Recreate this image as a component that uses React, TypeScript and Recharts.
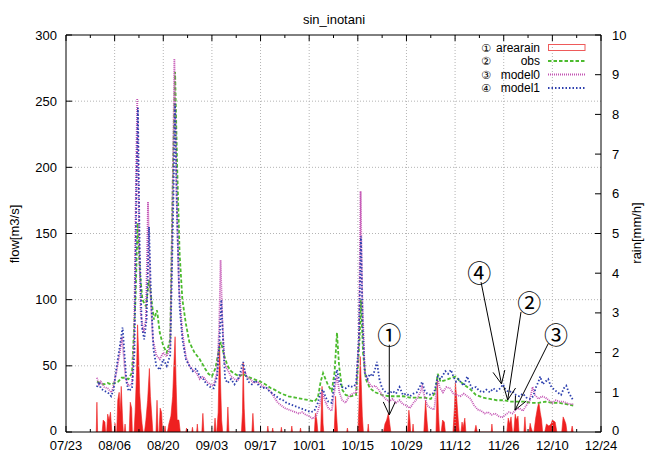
import React from 'react';
import { ComposedChart, Line, Area, XAxis, YAxis, ReferenceLine, ReferenceDot } from 'recharts';

const TITLE = 'sin_inotani';
const Y_LABEL = 'flow[m3/s]';
const Y2_LABEL = 'rain[mm/h]';
const X_LABELS = ['07/23', '08/06', '08/20', '09/03', '09/17', '10/01', '10/15', '10/29', '11/12', '11/26', '12/10', '12/24'];
// day offsets from 07/23
const X_TICKS = [0, 7, 14, 21, 28, 35, 42, 49, 56, 63, 70, 77, 84, 91, 98, 105, 112, 119, 126, 133, 140, 147, 154];
const X_GRID = [14, 28, 42, 56, 70, 84, 98, 112, 126, 140];
const FLOW_TICKS = [0, 50, 100, 150, 200, 250, 300];
const FLOW_GRID = [50, 100, 150, 200, 250];
const RAIN_TICKS = [0, 1, 2, 3, 4, 5, 6, 7, 8, 9, 10];

const LEGEND = [
  { mark: '①', name: 'arearain' },
  { mark: '②', name: 'obs' },
  { mark: '③', name: 'model0' },
  { mark: '④', name: 'model1' },
];

// rain [day, mm/h]
const RAIN: [number, number][] = [
  [8.7, 0], [8.9, 0.75], [9.1, 0],
  [10.4, 0], [10.7, 0.3], [11.2, 0.25], [11.4, 0],
  [11.7, 0], [12, 0.45], [12.4, 0.3], [12.8, 0.5], [13.2, 0],
  [13.9, 0], [14.1, 0.22], [14.3, 0],
  [14.6, 0], [14.9, 0.8], [15.3, 1.0], [15.6, 0.5], [15.9, 1.15], [16.3, 0.3], [16.5, 0],
  [16.8, 0], [17, 0.2], [17.2, 0],
  [18.2, 0], [18.5, 0.75], [18.9, 0.6], [19.1, 0],
  [19.6, 0], [19.9, 0.5], [20.3, 1.5], [20.6, 2.7], [20.9, 2.0], [21.2, 1.0], [21.5, 0.6], [21.9, 0.2], [22.2, 0],
  [22.6, 0], [23, 0.3], [23.5, 0.8], [24, 1.6], [24.3, 0.9], [24.7, 0.4], [25, 0],
  [25.9, 0], [26.2, 0.8], [26.5, 0],
  [26.8, 0], [27.1, 0.6], [27.5, 0.5], [27.8, 0],
  [28.3, 0], [28.5, 0.15], [28.7, 0],
  [29.2, 0], [29.6, 0.2], [30.2, 0.4], [30.7, 0.9], [31.1, 1.8], [31.4, 2.4], [31.7, 1.2], [32, 0.3], [32.5, 0.3], [32.9, 0],
  [34.5, 0], [34.7, 0.1], [34.9, 0],
  [36.2, 0], [36.4, 0.12], [36.6, 0],
  [37.6, 0], [37.8, 0.2], [38, 0],
  [39.1, 0], [39.4, 0.47], [39.7, 0],
  [42.6, 0], [42.9, 0.35], [43.2, 0],
  [43.4, 0], [43.8, 0.5], [44.2, 2.25], [44.5, 1.2], [44.8, 0.3], [45.1, 0],
  [46.3, 0], [46.6, 0.63], [46.9, 0],
  [50.5, 0], [50.8, 0.5], [51, 1.75], [51.3, 0.6], [51.6, 0],
  [53.5, 0], [53.8, 0.47], [54.1, 0],
  [57.9, 0], [58.1, 0.15], [58.3, 0],
  [59.3, 0], [59.5, 0.1], [59.7, 0],
  [61.8, 0], [62, 0.12], [62.2, 0],
  [64.8, 0], [65, 0.15], [65.2, 0],
  [67.3, 0], [67.5, 0.1], [67.7, 0],
  [71.5, 0], [71.8, 0.47], [72.2, 0.3], [72.5, 0],
  [73.3, 0], [73.7, 1.15], [74, 0.2], [74.2, 0],
  [77.2, 0], [77.6, 0.9], [77.9, 0.4], [78.2, 0],
  [80.8, 0], [81, 0.1], [81.2, 0],
  [84, 0], [84.3, 0.6], [84.7, 1.9], [85, 1.2], [85.3, 0.4], [85.6, 0],
  [86.8, 0], [87, 0.2], [87.2, 0],
  [91.4, 0], [91.8, 0.2], [92.3, 0.3], [92.8, 0.47], [93.2, 0.2], [93.5, 0],
  [98.3, 0], [98.7, 0.55], [99, 0.3], [99.2, 0],
  [99.7, 0], [99.9, 0.2], [100.1, 0],
  [103, 0], [103.5, 0.8], [103.9, 0.3], [104.2, 0],
  [106.5, 0], [106.9, 1.35], [107.2, 0.5], [107.5, 0],
  [108, 0], [108.4, 0.3], [108.9, 0.25], [109.2, 0],
  [111.4, 0], [111.8, 0.6], [112.1, 1.25], [112.5, 0.8], [112.9, 0.3], [113.2, 0],
  [113.7, 0], [114, 0.25], [114.3, 0.1], [114.8, 0.35], [115.1, 0],
  [117.6, 0], [118, 0.17], [118.4, 0],
  [122.4, 0], [122.6, 0.2], [122.8, 0],
  [126.9, 0], [127.3, 0.35], [127.7, 0.2], [128.1, 0.38], [128.5, 0],
  [128.9, 0], [129.3, 0.45], [129.7, 0.3], [130.1, 0.4], [130.4, 0],
  [131.8, 0], [132.1, 0.38], [132.4, 0],
  [133.3, 0], [133.6, 0.22], [133.9, 0.1], [134.3, 0],
  [134.7, 0], [135.2, 0.35], [135.7, 0.6], [136.1, 0.75], [136.5, 0.5], [136.9, 0.3], [137.2, 0],
  [137.8, 0], [138.3, 0.2], [139, 0.15], [139.6, 0.2], [140, 0.3], [140.8, 0.25], [141.3, 0],
  [142.7, 0], [143.1, 0.38], [143.5, 0.3], [143.9, 0.2], [144.2, 0],
  [145.4, 0], [145.7, 0.15], [146, 0],
];

// observed flow [day, m3/s]
const OBS: [number, number][] = [
  [8.9, 38], [10, 37], [11, 36], [12, 37], [13, 36], [14, 37], [15, 38], [16, 41], [17, 41], [18, 40], [19, 45],
  [20, 100], [20.6, 158], [21.3, 120], [22, 100], [23, 95], [23.9, 115], [24.6, 100], [25.3, 85], [26.2, 92],
  [27, 75], [28, 65], [29, 60], [30, 70], [30.8, 200], [31.4, 272], [32, 200], [32.7, 135], [33.5, 100],
  [34.5, 82], [35.5, 68], [37, 60], [38.5, 55], [40, 48], [41, 44], [42, 42], [43, 48], [44, 62], [44.6, 68],
  [45.5, 58], [46.5, 50], [47.5, 46], [48.5, 44], [50, 42], [51, 44], [52, 42], [54, 40], [56, 38], [58, 35],
  [59, 33], [60, 32], [62, 29], [64, 27], [66, 26], [68, 25], [70, 24], [71.5, 23], [72.5, 26], [73.3, 38],
  [74, 44.5], [74.7, 40], [75.5, 35], [76.5, 31], [77.3, 45], [78, 75], [78.6, 50], [79.5, 32], [80.5, 28],
  [82, 27], [83.5, 28], [84.5, 70], [84.9, 100], [85.5, 60], [86.3, 40], [87.5, 33], [89, 30], [91, 28],
  [93, 27], [95, 27], [97, 27], [99, 26], [101, 26], [103, 26], [105, 25], [106.3, 30], [107, 44], [107.8, 38],
  [109, 39], [110, 40], [111, 41], [112.2, 42], [113.5, 38], [115, 35], [116.5, 32], [118, 28], [120, 26],
  [122, 25], [124, 24], [126, 24], [128, 23], [130, 23], [132, 23], [134, 22], [136, 22], [138, 23], [140, 22],
  [142, 22], [144, 21], [146, 20],
];

// model0 flow [day, m3/s]
const MODEL0: [number, number][] = [
  [8.9, 41], [9.5, 36], [10, 38], [11, 34], [12, 33], [13, 30], [13.5, 33], [14.5, 45], [15.5, 60], [16.1, 72],
  [16.6, 58], [17.2, 40], [18, 35], [19, 36], [19.6, 70], [20.2, 200], [20.5, 252], [21, 150], [21.5, 90],
  [22.3, 75], [23, 85], [23.6, 174], [24.2, 110], [25, 70], [26, 58], [27, 55], [28, 60], [29, 57], [30, 65],
  [30.7, 180], [31.2, 282], [31.8, 180], [32.5, 110], [33.5, 75], [34.5, 57], [35.5, 50], [36.5, 47], [37.5, 45],
  [38.5, 40], [39.5, 42], [40.5, 38], [41.5, 36], [42.5, 35], [43.5, 45], [44.1, 80], [44.5, 130], [45, 85],
  [45.6, 52], [46.5, 47], [47.5, 42], [48.5, 40], [49.5, 39], [50.5, 44], [51.2, 48], [52, 42], [53, 40],
  [54, 37], [55, 38], [56, 36], [57, 34], [58, 33], [59, 30], [60, 26], [61, 22], [62, 20], [63, 18], [64, 17],
  [65, 16], [66, 15], [67, 14], [68, 15], [69, 13], [70, 12], [71, 10], [72, 12], [73, 20], [73.8, 30],
  [74.5, 24], [75.5, 18], [76.5, 16], [77.5, 35], [78, 42], [78.7, 30], [79.5, 24], [80.5, 22], [81.5, 27],
  [82.5, 29], [83.5, 30], [84.3, 70], [84.8, 182], [85.3, 100], [86, 45], [87, 38], [88, 34], [89, 35],
  [90, 32], [91, 28], [92, 25], [93, 23], [94, 25], [95, 22], [96, 24], [97, 21], [98, 20], [99, 18], [100, 22],
  [101, 25], [102, 30], [102.5, 34], [103.3, 26], [104, 20], [105, 18], [106, 17], [107, 39], [107.7, 33],
  [108.5, 30], [109.5, 34], [110.5, 33], [111.5, 29], [112.5, 28], [113.5, 27], [114.5, 29], [115.5, 27],
  [116.5, 25], [117.5, 20], [118.5, 17], [119.5, 16], [120.5, 14], [121.5, 15], [122.5, 13], [123.5, 14],
  [124.5, 12], [125.5, 11], [126.5, 13], [127.5, 15], [128.5, 14], [129.5, 17], [130.5, 18], [131.5, 16],
  [132.5, 20], [133.5, 24], [134.3, 34], [135, 28], [136, 25], [137, 27], [138, 26], [139, 24], [140, 22],
  [141, 24], [142, 23], [143, 23], [144, 22], [145, 21], [146, 21],
];

// model1 flow [day, m3/s]
const MODEL1: [number, number][] = [
  [8.9, 34], [9.5, 38], [10, 33], [11, 31], [12, 30], [13, 27], [13.7, 32], [14.5, 48], [15.5, 65], [16.3, 79],
  [16.8, 60], [17.4, 38], [18, 31], [19, 33], [19.7, 60], [20.3, 190], [20.7, 245], [21.2, 140], [21.8, 80],
  [22.5, 70], [23.2, 85], [23.9, 155], [24.5, 100], [25.2, 62], [26, 50], [27, 47], [28, 55], [29, 50], [30, 58],
  [30.8, 160], [31.4, 248], [32, 160], [32.7, 95], [33.5, 70], [34.5, 55], [35.5, 50], [36.5, 46], [37.5, 48],
  [38.5, 42], [39.5, 40], [40.5, 36], [41.5, 34], [42.5, 33], [43.5, 42], [44.2, 70], [44.7, 100], [45.2, 70],
  [45.8, 40], [46.5, 37], [47.5, 40], [48.5, 36], [49.5, 40], [50.3, 46], [51, 53], [51.6, 44], [52.5, 38],
  [53.5, 36], [54.5, 39], [55.5, 35], [56.5, 33], [57.5, 34], [58.5, 31], [59.5, 29], [60.5, 27], [61.5, 25],
  [62.5, 24], [63.5, 22], [64.5, 21], [65.5, 20], [66.5, 19], [67.5, 18], [68.5, 17], [69.5, 16], [70.5, 15],
  [71.5, 16], [72.5, 22], [73.3, 30], [74, 32], [74.8, 26], [75.5, 23], [76.5, 22], [77.3, 38], [78, 47],
  [78.7, 38], [79.5, 34], [80.5, 33], [81.5, 35], [82.5, 34], [83.5, 36], [84.3, 70], [84.9, 148], [85.4, 80],
  [86, 45], [86.8, 40], [87.5, 44], [88.3, 42], [89, 48], [89.5, 53], [90.2, 40], [91, 33], [92, 30], [93, 29],
  [94, 31], [95, 29], [96, 34], [97, 28], [98, 29], [99, 27], [100, 29], [101, 30], [102, 35], [102.5, 38],
  [103.3, 31], [104, 29], [105, 28], [106, 30], [107, 42], [107.8, 40], [108.5, 43], [109.2, 46], [110, 44],
  [110.8, 47], [111.5, 42], [112.3, 38], [113, 40], [113.8, 37], [114.5, 35], [115.5, 42], [116.3, 36], [117, 33],
  [118, 34], [119, 31], [120, 30], [121, 32], [122, 30], [123, 33], [124, 31], [125, 33], [125.8, 36], [126.5, 32],
  [127.5, 30], [128.5, 31], [129.5, 28], [130.5, 27], [131.5, 29], [132.5, 26], [133.5, 25], [134.5, 27],
  [135.3, 34], [136, 38], [136.5, 42], [137.2, 36], [138, 38], [138.8, 40], [139.5, 35], [140.5, 32], [141.5, 30],
  [142.5, 28], [143.3, 33], [144, 35], [144.7, 30], [145.5, 26], [146, 24],
];

// annotation callouts: circle centre and arrow (day, flow)
const CALLOUTS = [
  { mark: '①', at: [93.06, 74.1], from: [93.06, 66.1], to: [93.06, 12.9] },
  { mark: '④', at: [118.97, 121.1], from: [119.46, 113.4], to: [125.36, 36.3] },
  { mark: '②', at: [133.36, 98.5], from: [130.97, 90.7], to: [127.14, 24.2] },
  { mark: '③', at: [141.05, 74.1], from: [138.83, 66.9], to: [129.25, 16.6] },
];

const C_RAIN = '#ee2020';
const C_OBS = '#4cbb2e';
const C_M0 = '#c455b4';
const C_M1 = '#2c3fae';
const FONT = '"Liberation Sans", Arial, Helvetica, sans-serif';
const CJK = '"Noto Sans CJK JP", "DejaVu Sans", sans-serif';
const KEYMARK = '"DejaVu Sans", "Noto Sans CJK JP", sans-serif';

const toPts = (a: [number, number][]) => a.map(([d, v]) => ({ d, v }));
const rainData = toPts(RAIN);
const obsData = toPts(OBS);
const m0Data = toPts(MODEL0);
const m1Data = toPts(MODEL1);

const BottomTick = (p: any) => {
  const { x, y, payload } = p;
  const v = payload.value;
  const major = v % 14 === 0;
  return (
    <g>
      <line x1={x} x2={x} y1={y} y2={y - (major ? 6 : 3)} stroke="#000" />
      {major && (
        <text x={x} y={y + 18} textAnchor="middle" fontSize={13} fontFamily={FONT} fill="#000">
          {X_LABELS[v / 14]}
        </text>
      )}
    </g>
  );
};

const TopTick = (p: any) => {
  const { x, y, payload } = p;
  const major = payload.value % 14 === 0;
  return <line x1={x} x2={x} y1={y} y2={y + (major ? 6 : 3)} stroke="#000" />;
};

const LeftTick = (p: any) => {
  const { x, y, payload } = p;
  const dy = payload.value === 0 ? 2.5 : 4.5;
  return (
    <g>
      <line x1={x} x2={x + 6} y1={y} y2={y} stroke="#000" />
      <text x={x - 9} y={y + dy} textAnchor="end" fontSize={13} fontFamily={FONT} fill="#000">
        {payload.value}
      </text>
    </g>
  );
};

const RightTick = (p: any) => {
  const { x, y, payload } = p;
  const dy = payload.value === 0 ? 2.5 : 4.5;
  return (
    <g>
      <line x1={x} x2={x - 6} y1={y} y2={y} stroke="#000" />
      <text x={x + 11} y={y + dy} textAnchor="start" fontSize={13} fontFamily={FONT} fill="#000">
        {payload.value}
      </text>
    </g>
  );
};

const ArrowShape = (p: any) => {
  const { x1, y1, x2, y2 } = p;
  const dx = x2 - x1;
  const dy = y2 - y1;
  const L = Math.hypot(dx, dy) || 1;
  const ux = dx / L;
  const uy = dy / L;
  const bx = x2 - 13 * ux;
  const by = y2 - 13 * uy;
  const px = -uy;
  const py = ux;
  return (
    <g>
      <line x1={x1} y1={y1} x2={x2} y2={y2} stroke="#000" strokeWidth={1} />
      <polyline
        points={`${bx + 6 * px},${by + 6 * py} ${x2},${y2} ${bx - 6 * px},${by - 6 * py}`}
        fill="none"
        stroke="#000"
        strokeWidth={1}
      />
    </g>
  );
};

const makeCircleShape = (mark: string) => (p: any) => {
  const { cx, cy } = p;
  return (
    <g>
      <circle cx={cx} cy={cy} r={10.5} fill="#fff" stroke="none" />
      <text x={cx} y={cy} textAnchor="middle" dominantBaseline="central" fontSize={24} fontFamily={CJK} fill="#000">
        {mark}
      </text>
    </g>
  );
};

export default function App() {
  const legendY = [47.5, 61, 74.5, 88];
  return (
    <div style={{ position: 'absolute', left: 0, top: 0, width: 650, height: 457, background: '#fff' }}>
      <ComposedChart width={650} height={457} margin={{ top: 30, right: 19, bottom: 5, left: 26 }}>
        <XAxis
          xAxisId="b"
          dataKey="d"
          type="number"
          domain={[0, 154]}
          ticks={X_TICKS}
          interval={0}
          tickSize={0}
          tickMargin={0}
          height={20}
          axisLine={{ stroke: '#000' }}
          tickLine={false}
          tick={(p: any) => <BottomTick {...p} />}
          allowDataOverflow
        />
        <XAxis
          xAxisId="t"
          orientation="top"
          dataKey="d"
          type="number"
          domain={[0, 154]}
          ticks={X_TICKS}
          interval={0}
          tickSize={0}
          tickMargin={0}
          height={5}
          axisLine={{ stroke: '#000' }}
          tickLine={false}
          tick={(p: any) => <TopTick {...p} />}
          allowDataOverflow
        />
        <YAxis
          yAxisId="f"
          orientation="left"
          type="number"
          domain={[0, 300]}
          ticks={FLOW_TICKS}
          interval={0}
          tickSize={0}
          tickMargin={0}
          width={40}
          axisLine={{ stroke: '#000' }}
          tickLine={false}
          tick={(p: any) => <LeftTick {...p} />}
          allowDataOverflow
        />
        <YAxis
          yAxisId="r"
          orientation="right"
          type="number"
          domain={[0, 10]}
          ticks={RAIN_TICKS}
          interval={0}
          tickSize={0}
          tickMargin={0}
          width={30}
          axisLine={{ stroke: '#000' }}
          tickLine={false}
          tick={(p: any) => <RightTick {...p} />}
          allowDataOverflow
        />
        {X_GRID.map((x) => (
          <ReferenceLine key={'gx' + x} xAxisId="b" yAxisId="f" x={x} stroke="#b4b4b4" strokeDasharray="1 2" />
        ))}
        {FLOW_GRID.map((y) => (
          <ReferenceLine key={'gy' + y} xAxisId="b" yAxisId="f" y={y} stroke="#b4b4b4" strokeDasharray="1 2" />
        ))}
        <Area
          xAxisId="b"
          yAxisId="r"
          data={rainData}
          dataKey="v"
          type="linear"
          stroke={C_RAIN}
          strokeWidth={0.6}
          fill={C_RAIN}
          fillOpacity={1}
          dot={false}
          activeDot={false}
          isAnimationActive={false}
        />
        <Line
          xAxisId="b"
          yAxisId="f"
          data={obsData}
          dataKey="v"
          type="linear"
          stroke={C_OBS}
          strokeWidth={1.8}
          strokeDasharray="3.5 2"
          dot={false}
          activeDot={false}
          isAnimationActive={false}
        />
        <Line
          xAxisId="b"
          yAxisId="f"
          data={m0Data}
          dataKey="v"
          type="linear"
          stroke={C_M0}
          strokeWidth={1.8}
          strokeDasharray="1 1"
          dot={false}
          activeDot={false}
          isAnimationActive={false}
        />
        <Line
          xAxisId="b"
          yAxisId="f"
          data={m1Data}
          dataKey="v"
          type="linear"
          stroke={C_M1}
          strokeWidth={1.8}
          strokeDasharray="1.5 2"
          dot={false}
          activeDot={false}
          isAnimationActive={false}
        />
        {CALLOUTS.map((c) => (
          <ReferenceLine
            key={'a' + c.mark}
            xAxisId="b"
            yAxisId="f"
            segment={[
              { x: c.from[0], y: c.from[1] },
              { x: c.to[0], y: c.to[1] },
            ]}
            shape={(p: any) => <ArrowShape {...p} />}
          />
        ))}
        {CALLOUTS.map((c) => (
          <ReferenceDot
            key={'c' + c.mark}
            xAxisId="b"
            yAxisId="f"
            x={c.at[0]}
            y={c.at[1]}
            r={10}
            shape={makeCircleShape(c.mark)}
          />
        ))}
      </ComposedChart>
      <svg
        width={650}
        height={457}
        style={{ position: 'absolute', left: 0, top: 0, pointerEvents: 'none' }}
      >
        <text x={334} y={24} textAnchor="middle" fontSize={13} fontFamily={FONT} fill="#000">
          {TITLE}
        </text>
        <text
          x={14}
          y={234}
          transform="rotate(-90 14 234)"
          textAnchor="middle"
          dominantBaseline="central"
          fontSize={13}
          fontFamily={FONT}
          fill="#000"
        >
          {Y_LABEL}
        </text>
        <text
          x={636}
          y={233}
          transform="rotate(-90 636 233)"
          textAnchor="middle"
          dominantBaseline="central"
          fontSize={13}
          fontFamily={FONT}
          fill="#000"
        >
          {Y2_LABEL}
        </text>
        {LEGEND.map((l, i) => (
          <g key={l.name}>
            <text x={486} y={legendY[i] + 4} textAnchor="middle" fontSize={11} fontFamily={KEYMARK} fill="#000">
              {l.mark}
            </text>
            <text x={540} y={legendY[i] + 4.3} textAnchor="end" fontSize={12} fontFamily={FONT} fill="#000">
              {l.name}
            </text>
          </g>
        ))}
        <rect x={548.5} y={44.5} width={36.5} height={6} fill="none" stroke="#ee5a5a" strokeWidth={1} />
        <line x1={548} x2={585} y1={legendY[1]} y2={legendY[1]} stroke={C_OBS} strokeWidth={1.8} strokeDasharray="3.5 2" />
        <line x1={548} x2={585} y1={legendY[2]} y2={legendY[2]} stroke={C_M0} strokeWidth={1.8} strokeDasharray="1 1" />
        <line x1={548} x2={585} y1={legendY[3]} y2={legendY[3]} stroke={C_M1} strokeWidth={1.8} strokeDasharray="1.5 2" />
      </svg>
    </div>
  );
}
